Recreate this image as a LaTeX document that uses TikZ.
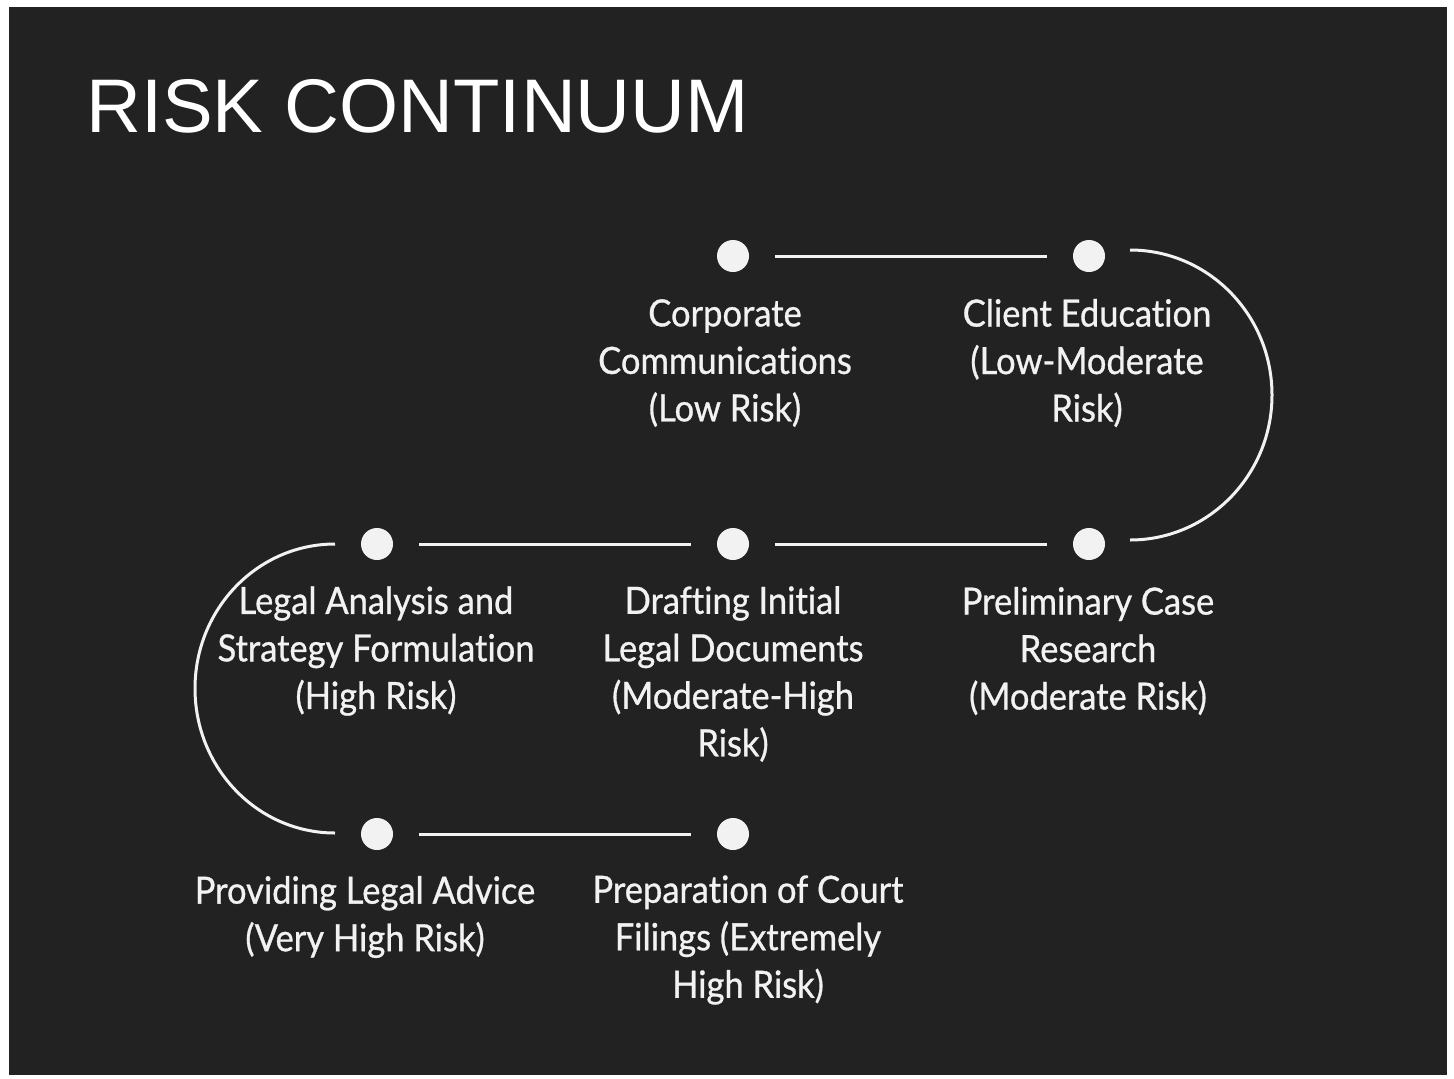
\documentclass[tikz,border=0pt]{standalone}
\usepackage{fontspec}
\setmainfont{Liberation Sans}
\newfontfamily\labelfont[FakeStretch=0.92,FakeBold=0.8,Ligatures={NoCommon,NoRare}]{Lato}
\definecolor{bgdark}{HTML}{222222}
\definecolor{fgwhite}{HTML}{F2F2F2}
\begin{document}
\begin{tikzpicture}[x=1pt,y=-1pt,
  dot/.style={circle,fill=fgwhite,draw=none,minimum size=32pt,inner sep=0pt},
  conn/.style={draw=fgwhite,line width=3pt,shorten <=26pt,shorten >=26pt},
  curve/.style={draw=fgwhite,line width=3pt},
  lbl/.style={text=fgwhite,align=center,inner sep=0pt,font=\labelfont\fontsize{37.5}{47.5}\selectfont},
  title/.style={text=white,anchor=base west,inner sep=0pt,font=\fontsize{76}{80}\selectfont}]
\useasboundingbox (0,0) rectangle (1454,1079);
\fill[white] (0,0) rectangle (1454,1079);
\fill[bgdark] (9,7) rectangle (1447,1075);
\node[title] (t) at (86,132) {RISK CONTINUUM};
% dots
\node[dot] (d1) at (733,256) {};
\node[dot] (d2) at (1089,256) {};
\node[dot] (d3) at (1089,544) {};
\node[dot] (d4) at (733,544) {};
\node[dot] (d5) at (377,544) {};
\node[dot] (d6) at (377,834) {};
\node[dot] (d7) at (733,834) {};
% connectors
\draw[conn] (d1) -- (d2);
\draw[conn] (d3) -- (d4);
\draw[conn] (d4) -- (d5);
\draw[conn] (d6) -- (d7);
\coordinate (r1) at (1130,250);
\coordinate (l1) at (335,544);
\draw[curve] (r1) arc[start angle=-90,end angle=90,x radius=142,y radius=145];
\draw[curve] (l1) arc[start angle=-90,end angle=-270,x radius=140,y radius=144.5];
% labels
\node[lbl] (a1) at (725,363) {Corporate\\Communications\\(Low Risk)};
\node[lbl] (a2) at (1087,363) {Client Education\\(Low-Moderate\\Risk)};
\node[lbl] (a3) at (1088,651) {Preliminary Case\\Research\\(Moderate Risk)};
\node[lbl] (a4) at (733,674) {Drafting Initial\\Legal Documents\\(Moderate-High\\Risk)};
\node[lbl] (a5) at (376,651) {Legal Analysis and\\Strategy Formulation\\(High Risk)};
\node[lbl] (a6) at (365,917) {Providing Legal Advice\\(Very High Risk)};
\node[lbl] (a7) at (748,940) {Preparation of Court\\Filings (Extremely\\High Risk)};
\end{tikzpicture}
\end{document}
